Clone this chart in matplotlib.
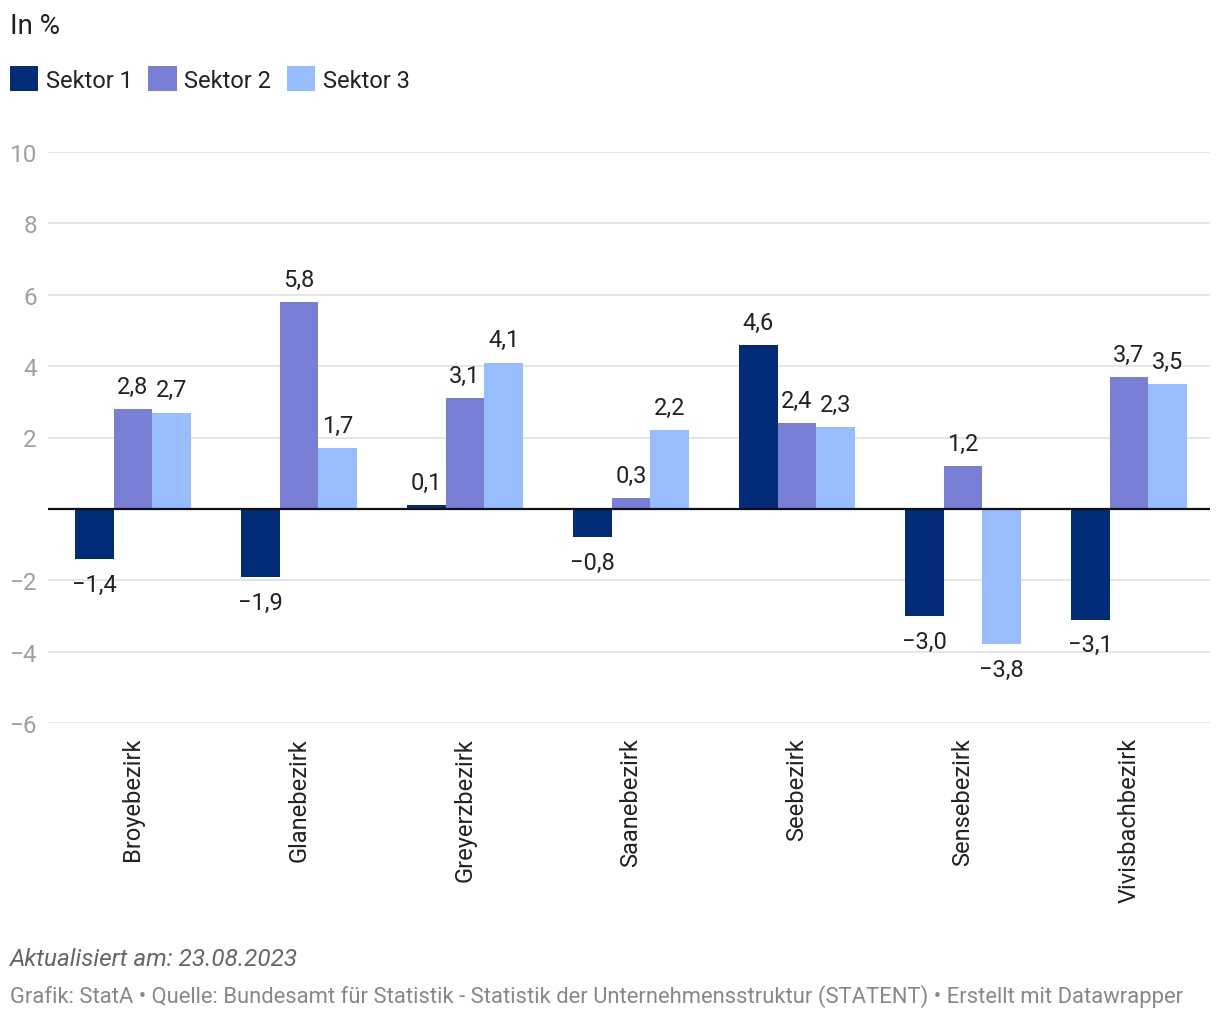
import matplotlib.pyplot as plt
import numpy as np

plt.rcParams["font.family"] = ["Roboto", "DejaVu Sans"]

districts = ["Broyebezirk", "Glanebezirk", "Greyerzbezirk", "Saanebezirk",
             "Seebezirk", "Sensebezirk", "Vivisbachbezirk"]
series_names = ["Sektor 1", "Sektor 2", "Sektor 3"]
sektor1 = [-1.4, -1.9, 0.1, -0.8, 4.6, -3.0, -3.1]
sektor2 = [2.8, 5.8, 3.1, 0.3, 2.4, 1.2, 3.7]
sektor3 = [2.7, 1.7, 4.1, 2.2, 2.3, -3.8, 3.5]
y_ticks = [-6, -4, -2, 2, 4, 6, 8, 10]

COLORS = ["#022b78", "#7a7fd6", "#98bdff"]
INK = "#222222"
GRID = "#e0e0e0"
TICK = "#a0a0a0"


def fmt(v):
    s = f"{abs(v):.1f}".replace(".", ",")
    return ("\u2212" + s) if v < 0 else s


fig = plt.figure(figsize=(12.2, 10.2), dpi=100)
ax = fig.add_axes([48 / 1220, 1 - 724 / 1020, (1210 - 48) / 1220, (724 - 153) / 1020])

x = np.arange(len(districts))
width = 0.233
all_series = [sektor1, sektor2, sektor3]
for k, (vals, name, col) in enumerate(zip(all_series, series_names, COLORS)):
    pos = x + (k - 1) * width
    ax.bar(pos, vals, width=width, color=col, label=name, zorder=3, linewidth=0)
    for px, v in zip(pos, vals):
        if v >= 0:
            ax.annotate(fmt(v), (px, v), xytext=(0, 8), textcoords="offset points",
                        ha="center", va="bottom", fontsize=17, color=INK)
        else:
            ax.annotate(fmt(v), (px, v), xytext=(0, -10), textcoords="offset points",
                        ha="center", va="top", fontsize=17, color=INK)

ax.set_xlim(-0.512, 6.488)
ax.set_ylim(-6, 10)
ax.set_yticks(y_ticks)
ax.set_yticklabels([fmt(t).replace(",0", "") for t in y_ticks], fontsize=17.5, color=TICK)
ax.tick_params(axis="y", length=0, pad=8)
ax.set_xticks(x)
ax.set_xticklabels(districts, rotation=90, ha="center", va="top", fontsize=17, color=INK)
ax.tick_params(axis="x", length=0, pad=10)
ax.grid(axis="y", color=GRID, linewidth=1.2, zorder=0)
ax.axhline(0, color="#111111", linewidth=1.6, zorder=4)
for side in ("top", "right", "left", "bottom"):
    ax.spines[side].set_visible(False)

fig.text(10 / 1220, 1 - 26 / 1020, "In %", fontsize=20, color=INK, va="center", ha="left")
fig.legend(loc="center left", bbox_to_anchor=(10 / 1220, 1 - 80 / 1020), ncol=3,
           frameon=False, fontsize=17, handlelength=1.2, handleheight=1.2,
           handletextpad=0.33, columnspacing=0.65, borderpad=0, borderaxespad=0,
           labelcolor=INK)

fig.text(10 / 1220, 1 - 960 / 1020, "Aktualisiert am: 23.08.2023", fontsize=17.5,
         style="italic", color="#666666", va="center", ha="left")
fig.text(10 / 1220, 1 - 997 / 1020,
         "Grafik: StatA \u2022 Quelle: Bundesamt für Statistik - Statistik der "
         "Unternehmensstruktur (STATENT) \u2022 Erstellt mit Datawrapper",
         fontsize=15.8, color="#888888", va="center", ha="left")

fig.savefig("out.png", dpi=100, facecolor="white")
